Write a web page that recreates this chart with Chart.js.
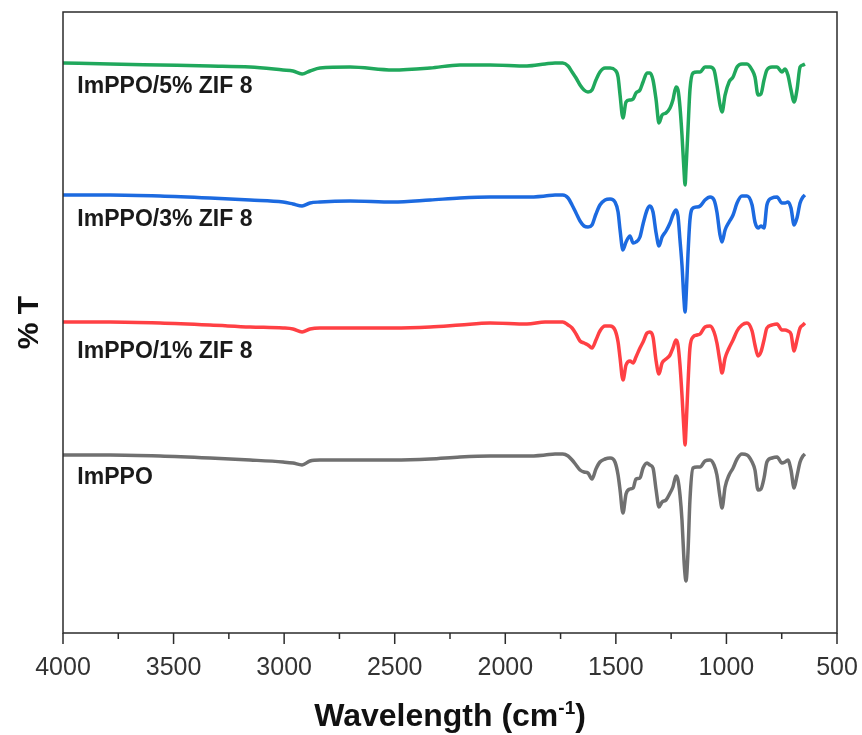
<!DOCTYPE html>
<html>
<head>
<meta charset="utf-8">
<title>FTIR ImPPO / ZIF 8</title>
<script src="https://cdn.jsdelivr.net/npm/chart.js@4.4.1/dist/chart.umd.min.js"></script>
<style>
  html, body { margin: 0; padding: 0; background: #fff; }
  #wrap { width: 862px; height: 735px; }
</style>
</head>
<body>
<div id="wrap"><canvas id="ftirChart" width="862" height="735"></canvas></div>
<script>
// wavenumber grid (cm-1) shared by all spectra
var wavenumbers = [
  4000, 3787, 3561, 3335, 3154, 3005, 2960, 2919, 2883, 2838, 2702, 2508, 2340, 2205, 2069, 1902, 1820, 1775,
  1740, 1716, 1698, 1680, 1662, 1644, 1626, 1608, 1590, 1572,
  1549, 1526, 1504, 1490, 1481, 1468, 1454, 1436, 1422, 1409,
  1391, 1377, 1359, 1346, 1332, 1318, 1305, 1291, 1273, 1255,
  1242, 1228, 1219, 1210, 1201, 1192, 1187, 1183, 1174, 1165,
  1151, 1133, 1119, 1097, 1074, 1056, 1043, 1029, 1020, 1006,
  988, 970, 952, 930, 907, 884, 871, 857, 844, 830,
  817, 794, 771, 749, 735, 722, 708, 694, 681, 667,
  654, 645
];

// %T, stacked (each spectrum shifted up)
var tImPPO = [
  35.6, 35.6, 35.4, 35, 34.6, 34.2, 34, 33.6, 34.4, 34.6, 34.6, 34.6, 34.8, 35.2, 35.4, 35.4, 35.6, 35.8,
  35.8, 35.4, 34.6, 33.6, 32.6, 32.2, 32, 30.8, 32.8, 34.2,
  34.8, 35, 34.2, 31.6, 28.6, 24, 27.8, 28.8, 29, 30.8,
  31, 33, 34, 33.6, 33, 28.6, 25.2, 26.2, 26.6, 28,
  29.2, 31.4, 30.6, 27.6, 22.6, 14.6, 11.6, 10.4, 16, 26.6,
  33, 33.2, 33.2, 34.4, 34.6, 33.6, 31.6, 27.2, 25, 29.2,
  31.6, 33, 34.8, 35.8, 35.6, 34.2, 32.6, 28.6, 28.8, 31,
  34.2, 35, 35.2, 34, 34.2, 34.6, 32.6, 29, 31.4, 34.2,
  35.4, 35.8
];
var tZif1 = [
  62.2, 62.2, 62, 61.6, 61.2, 61, 60.8, 60.2, 60.8, 61, 61, 61, 61.2, 61.6, 62, 61.8, 62.2, 62.2,
  62.2, 61.6, 61, 59.8, 58.4, 58, 57.6, 57, 58.6, 60.4,
  61.4, 61.4, 60.6, 58.2, 55, 50.6, 53.6, 54.4, 54, 55.2,
  57, 58.2, 60, 60.2, 59.2, 54.4, 51.8, 54, 54.8, 55.6,
  57, 58.6, 57.6, 53.6, 47.6, 40.6, 37.6, 40.6, 49.6, 57,
  59.2, 59.6, 59.8, 61.2, 61.4, 60.2, 58, 54.2, 52, 55,
  57, 58.6, 60.4, 61.6, 62, 60.4, 57.6, 55.4, 56.2, 58.6,
  61, 61.6, 61.8, 60.6, 60.6, 60.4, 59.8, 56.4, 58.6, 61,
  61.6, 62
];
var tZif3 = [
  87.6, 87.6, 87.4, 87, 86.6, 86.2, 85.8, 85.4, 86, 86.2, 86.4, 86.2, 86.6, 87, 87.2, 87.2, 87.4, 87.6,
  87.6, 87, 85.6, 84, 82.4, 81.4, 81.2, 81.6, 83.8, 85.6,
  86.6, 86.8, 86.2, 84.2, 80.6, 76.6, 78.2, 79.4, 78, 78.2,
  79.2, 81.8, 84.6, 85.4, 84.2, 80, 77.4, 79.2, 80.4, 82,
  83.6, 84.6, 83.4, 78.6, 73.6, 66.6, 64.2, 66.6, 75.6, 82.6,
  85, 85.2, 85.4, 86.6, 87.2, 86.6, 84.2, 79.6, 78.2, 80.6,
  82.2, 83.6, 86, 87.4, 87.4, 85.6, 82.2, 81, 81.4, 81,
  85.6, 87, 87.2, 86, 86, 86.2, 85, 81.6, 83, 86,
  87.2, 87.6
];
var tZif5 = [
  114, 113.8, 113.6, 113.4, 113.2, 112.6, 112.4, 111.8, 112.4, 113, 113.2, 112.6, 113, 113.6, 113.6, 113.4, 113.8, 114,
  114, 113.4, 112.2, 111, 109.6, 108.6, 108.2, 108.6, 110.6, 112.2,
  113, 113, 112.6, 111.2, 107.6, 103, 106.2, 106.6, 106.8, 108,
  108.6, 110.2, 112, 112, 110.6, 106.6, 102, 103.6, 104, 105,
  106.6, 109.2, 108.6, 105.2, 99.6, 92.6, 89.6, 92.6, 100.6, 108.6,
  112, 112.2, 112.2, 113.2, 113.2, 112.6, 109.6, 105.6, 104.2, 107.6,
  110.2, 111.2, 113.2, 113.8, 113.8, 112.6, 111.2, 107.6, 107.8, 110.6,
  112.6, 113.2, 113.2, 112.2, 112.8, 111.6, 108.6, 106.2, 108.6, 113.2,
  113.6, 113.8
];

var seriesNames = ["ImPPO", "ImPPO/1% ZIF 8", "ImPPO/3% ZIF 8", "ImPPO/5% ZIF 8"];
var xTicks = [4000, 3500, 3000, 2500, 2000, 1500, 1000, 500];

var FONT = "'Liberation Sans', Arial, sans-serif";

function toPoints(values) {
  var pts = [];
  for (var i = 0; i < values.length; i++) {
    pts.push({ x: wavenumbers[i], y: values[i] });
  }
  return pts;
}

// frame, tick marks, in-plot names and the x title (with superscript)
var decorations = {
  id: "decorations",
  afterDatasetsDraw: function (chart) {
    var ctx = chart.ctx;
    var a = chart.chartArea;
    var xs = chart.scales.x;
    var ys = chart.scales.y;
    ctx.save();

    ctx.strokeStyle = "#2b2b2b";
    ctx.lineWidth = 1.5;
    ctx.strokeRect(a.left, a.top, a.right - a.left, a.bottom - a.top);

    for (var i = 0; i < xTicks.length; i++) {
      var px = xs.getPixelForValue(xTicks[i]);
      ctx.beginPath();
      ctx.moveTo(px, a.bottom);
      ctx.lineTo(px, a.bottom + 11);
      ctx.stroke();
      if (i < xTicks.length - 1) {
        var mx = xs.getPixelForValue((xTicks[i] + xTicks[i + 1]) / 2);
        ctx.beginPath();
        ctx.moveTo(mx, a.bottom);
        ctx.lineTo(mx, a.bottom + 6);
        ctx.stroke();
      }
    }

    // names sit just under each flat baseline
    var nameY = [29.8, 55, 81.4, 108];
    ctx.font = "bold 23px " + FONT;
    ctx.fillStyle = "#1a1a1a";
    ctx.textBaseline = "alphabetic";
    ctx.textAlign = "left";
    for (var k = 0; k < seriesNames.length; k++) {
      ctx.fillText(seriesNames[k], xs.getPixelForValue(3935), ys.getPixelForValue(nameY[k]));
    }

    var main = "Wavelength (cm";
    ctx.font = "bold 32px " + FONT;
    var w1 = ctx.measureText(main).width;
    var w3 = ctx.measureText(")").width;
    ctx.font = "bold 19px " + FONT;
    var w2 = ctx.measureText("-1").width;
    var sx = (a.left + a.right) / 2 - (w1 + w2 + w3) / 2;
    var base = chart.height - 9;
    ctx.fillStyle = "#111";
    ctx.font = "bold 32px " + FONT;
    ctx.fillText(main, sx, base);
    ctx.font = "bold 19px " + FONT;
    ctx.fillText("-1", sx + w1, base - 12);
    ctx.font = "bold 32px " + FONT;
    ctx.fillText(")", sx + w1 + w2, base);

    ctx.restore();
  }
};

window.onload = function () {
  var ctx = document.getElementById("ftirChart").getContext("2d");
  var chart = new Chart(ctx, {
    type: "line",
    data: {
      datasets: [
        { label: seriesNames[0], data: toPoints(tImPPO), borderColor: "#707070" },
        { label: seriesNames[1], data: toPoints(tZif1), borderColor: "#ff4044" },
        { label: seriesNames[2], data: toPoints(tZif3), borderColor: "#1c6ae0" },
        { label: seriesNames[3], data: toPoints(tZif5), borderColor: "#20a85c" },
      ],
    },
    options: {
      responsive: false,
      animation: false,
      devicePixelRatio: 1,
      layout: { padding: { top: 12, right: 25, bottom: 0, left: 0 } },
      elements: {
        point: { radius: 0 },
        line: { borderWidth: 3.5, cubicInterpolationMode: "monotone", fill: false },
      },
      plugins: {
        legend: { display: false },
        tooltip: { enabled: false },
      },
      scales: {
        x: {
          type: "linear",
          reverse: true,
          min: 500,
          max: 4000,
          afterBuildTicks: function (scale) {
            scale.ticks = xTicks.map(function (v) {
              return { value: v };
            });
          },
          afterFit: function (scale) {
            // fixed band under the plot; labels may overhang the edges
            scale.height = 102;
            scale.paddingLeft = 0;
            scale.paddingRight = 0;
          },
          grid: { display: false, drawTicks: false },
          border: { display: false },
          ticks: {
            autoSkip: false,
            maxRotation: 0,
            padding: 20,
            color: "#333",
            font: { family: FONT, size: 25 },
            callback: function (v) {
              return String(v);
            },
          },
        },
        y: {
          type: "linear",
          min: 0,
          max: 124.2,
          afterFit: function (scale) {
            scale.width = 63;
          },
          grid: { display: false, drawTicks: false },
          border: { display: false },
          ticks: { display: false },
          title: {
            display: true,
            text: "% T",
            color: "#111",
            font: { family: FONT, size: 30, weight: "bold" },
            padding: { top: 12, bottom: 0 },
          },
        },
      },
    },
    plugins: [decorations],
  });
};
</script>
</body>
</html>
